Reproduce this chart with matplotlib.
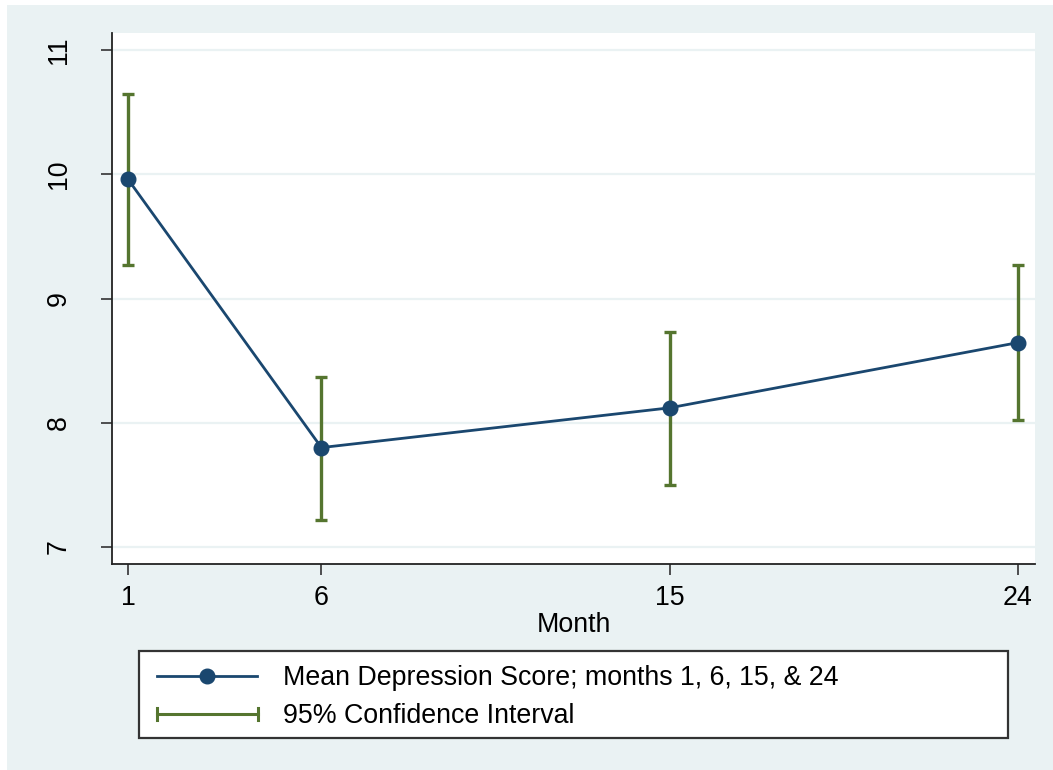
import matplotlib
matplotlib.use("Agg")
import matplotlib.pyplot as plt
from matplotlib.patches import Rectangle
from matplotlib.lines import Line2D

months = [1, 6, 15, 24]
mean_score = [9.96, 7.80, 8.12, 8.645]
ci_lower = [9.27, 7.22, 7.50, 8.02]
ci_upper = [10.65, 8.37, 8.73, 9.27]
y_ticks = [7, 8, 9, 10, 11]
x_ticks = [1, 6, 15, 24]
legend_labels = ['Mean Depression Score; months 1, 6, 15, & 24', '95% Confidence Interval']

plt.rcParams['font.family'] = ['Liberation Sans', 'DejaVu Sans']

W, H = 1053, 770
BG = '#EAF2F3'
NAVY = '#1A476F'
GREEN = '#55752F'
FS = 19.25

fig = plt.figure(figsize=(W / 100, H / 100), dpi=100)
fig.patch.set_facecolor('white')
fig.patches.append(Rectangle((7 / W, 0), 1 - 7 / W, 1 - 5 / H, transform=fig.transFigure,
                             facecolor=BG, edgecolor='none', zorder=-10))

def box(x0, y0, x1, y1):
    return [x0 / W, 1 - y1 / H, (x1 - x0) / W, (y1 - y0) / H]

def fx(x):
    return x / W

def fy(y):
    return 1 - y / H

ax = fig.add_axes(box(112, 33, 1035, 564))
ax.set_facecolor('white')
ax.set_xlim(0.588, 24.44)
ax.set_ylim(6.863, 11.137)

for y in y_ticks:
    ax.axhline(y, color=BG, lw=1.6, zorder=0)

yerr = [[m - l for m, l in zip(mean_score, ci_lower)], [u - m for u, m in zip(ci_upper, mean_score)]]
ax.errorbar(months, mean_score, yerr=yerr, fmt='none', ecolor=GREEN, elinewidth=2.4,
            capsize=4.5, capthick=2.4, zorder=2)
ax.plot(months, mean_score, color=NAVY, lw=2, marker='o', markersize=10.5, zorder=3)

ax.set_xticks(x_ticks)
ax.set_xticklabels([str(x) for x in x_ticks], fontsize=FS)
ax.set_yticks(y_ticks)
ax.set_yticklabels([str(y) for y in y_ticks], fontsize=FS, rotation=90, va='center')
ax.tick_params(axis='both', length=8, width=1.2, color='#333333')
ax.tick_params(axis='x', pad=7)
ax.tick_params(axis='y', pad=21)
for side in ['top', 'right']:
    ax.spines[side].set_visible(False)
for side in ['left', 'bottom']:
    ax.spines[side].set_linewidth(1.3)
    ax.spines[side].set_color('#222222')
ax.set_xlabel('Month', fontsize=FS, labelpad=1)

# legend drawn in figure pixel space
fig.patches.append(Rectangle((fx(139), fy(738)), fx(1008) - fx(139), fy(651) - fy(738),
                             transform=fig.transFigure, facecolor='white',
                             edgecolor='#333333', linewidth=1.6, zorder=5))
r1, r2 = 676, 714
fig.add_artist(Line2D([fx(157), fx(257)], [fy(r1), fy(r1)], color=NAVY, lw=2,
                      transform=fig.transFigure, zorder=6))
fig.add_artist(Line2D([fx(207)], [fy(r1)], color=NAVY, marker='o', markersize=10.5,
                      linestyle='none', transform=fig.transFigure, zorder=7))
fig.add_artist(Line2D([fx(157), fx(258)], [fy(r2), fy(r2)], color=GREEN, lw=2.2,
                      transform=fig.transFigure, zorder=6))
for xc in (157, 258):
    fig.add_artist(Line2D([fx(xc), fx(xc)], [fy(r2 - 6), fy(r2 + 6)], color=GREEN, lw=2.2,
                          transform=fig.transFigure, zorder=6))
fig.text(fx(283), fy(r1 - 1), legend_labels[0], fontsize=FS, va='center_baseline', ha='left', zorder=7)
fig.text(fx(283), fy(r2 - 1), legend_labels[1], fontsize=FS, va='center_baseline', ha='left', zorder=7)

fig.savefig('out.png', dpi=100, facecolor=fig.get_facecolor())
